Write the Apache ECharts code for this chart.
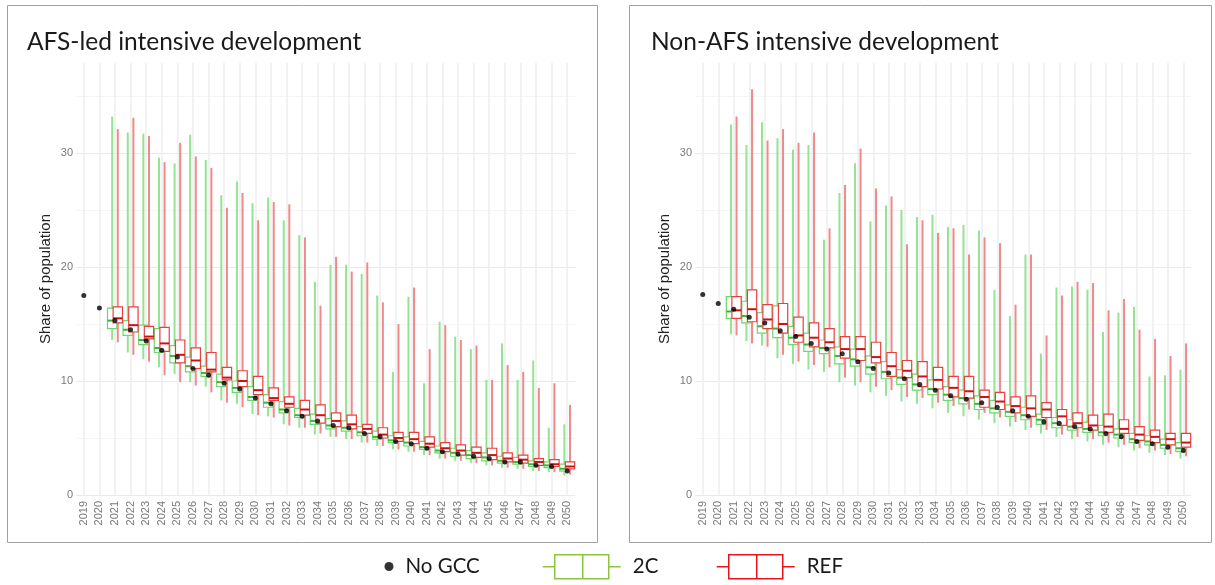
<!DOCTYPE html>
<html><head><meta charset="utf-8">
<script src="https://cdn.jsdelivr.net/npm/echarts@6/dist/echarts.min.js"></script>
<style>html,body{margin:0;padding:0;background:#fff}#c{width:1215px;height:585px}</style>
</head><body><div id="c"></div>
<script>
// ---------- DATA ----------
const years = ['2019','2020','2021','2022','2023','2024','2025','2026','2027','2028','2029','2030',
  '2031','2032','2033','2034','2035','2036','2037','2038','2039','2040','2041','2042','2043','2044',
  '2045','2046','2047','2048','2049','2050'];
const boxStartYear = '2021';
const yTicks = [0, 10, 20, 30];
const panelTitles = ['AFS-led intensive development', 'Non-AFS intensive development'];
const yAxisTitle = 'Share of population';
const seriesNames = ['No GCC', '2C', 'REF'];

// No GCC point estimates, 2019-2050
const afsNoGcc = [17.5,16.4,15.3,14.5,13.5,12.7,12.1,11.1,10.5,9.8,9.3,8.5,8.0,7.4,6.9,6.5,
  6.1,5.9,5.4,5.1,4.7,4.5,4.1,3.8,3.6,3.4,3.2,2.9,2.9,2.6,2.5,2.1];
const nonAfsNoGcc = [17.6,16.8,16.3,15.6,15.1,14.4,13.9,13.3,12.8,12.4,11.7,11.1,10.7,10.2,9.7,9.2,
  8.7,8.4,8.1,7.7,7.4,6.9,6.4,6.3,6.0,5.8,5.4,5.1,4.7,4.5,4.2,3.9];

// boxes 2021-2050: [min, q1, median, q3, max]
const afs2C = [[13.6,14.6,15.3,16.4,33.2],[12.5,14.0,14.5,15.3,31.8],[11.9,13.2,13.6,14.9,31.7],
  [11.2,12.5,12.9,14.6,29.6],[10.6,11.6,12.2,13.1,29.1],[9.9,10.8,11.3,12.1,31.6],[9.5,10.4,10.7,11.3,29.4],
  [8.3,9.5,9.9,10.6,26.3],[8.0,9.0,9.4,10.0,27.5],[7.1,8.3,8.6,9.5,25.6],[6.9,7.7,8.1,8.8,26.1],
  [6.2,7.2,7.5,8.2,24.1],[5.9,6.8,7.0,7.6,22.8],[5.3,6.2,6.5,7.1,18.7],[5.1,5.8,6.1,6.7,20.2],
  [4.9,5.6,5.9,6.5,20.2],[4.6,5.2,5.5,6.0,19.4],[4.3,4.9,5.1,5.6,17.5],[4.0,4.6,4.8,5.2,10.8],
  [3.8,4.3,4.6,5.1,17.4],[3.5,4.0,4.2,4.7,9.8],[3.2,3.7,3.9,4.3,15.2],[3.0,3.4,3.7,4.1,13.9],
  [2.8,3.2,3.5,3.9,12.8],[2.6,3.0,3.3,3.7,10.1],[2.4,2.8,3.0,3.4,13.3],[2.3,2.7,2.9,3.3,10.1],
  [2.1,2.5,2.7,3.0,11.8],[2.0,2.4,2.6,2.9,5.9],[1.7,2.1,2.3,2.7,6.2]];
const afsREF = [[13.4,15.1,15.5,16.5,32.1],[12.3,14.3,14.9,16.5,33.1],[11.7,13.7,13.9,14.8,31.5],
  [10.5,12.6,13.3,14.7,29.2],[9.9,11.6,12.3,13.6,30.9],[9.6,11.1,11.8,12.9,29.7],[9.0,10.8,11.0,12.5,28.7],
  [8.1,10.1,10.3,11.2,25.2],[7.7,9.5,10.0,10.9,26.5],[7.0,8.8,9.2,10.4,24.1],[6.8,8.3,8.5,9.4,25.7],
  [6.1,7.7,8.0,8.6,25.5],[5.9,7.0,7.5,8.3,22.6],[5.4,6.3,7.0,7.9,16.6],[5.1,6.0,6.5,7.2,20.9],
  [4.9,5.8,6.2,7.0,19.6],[4.6,5.4,5.8,6.2,20.4],[4.3,5.0,5.3,5.9,16.9],[4.0,4.7,5.0,5.5,15.0],
  [3.8,4.5,4.9,5.5,18.2],[3.5,4.2,4.5,5.1,12.8],[3.2,3.8,4.1,4.6,14.9],[3.0,3.5,3.9,4.4,13.6],
  [2.8,3.3,3.7,4.2,13.1],[2.6,3.1,3.5,4.1,10.1],[2.4,2.9,3.2,3.7,11.4],[2.3,2.8,3.1,3.5,10.8],
  [2.1,2.6,2.9,3.2,9.4],[2.0,2.5,2.7,3.1,9.8],[1.8,2.3,2.5,2.9,7.9]];
const nonAfs2C = [[14.1,15.5,16.1,17.4,32.5],[13.5,15.1,15.7,17.0,30.7],[13.1,14.2,14.8,16.0,32.7],
  [12.0,13.8,14.6,16.6,31.3],[11.5,13.2,13.8,14.8,30.3],[11.0,12.6,13.2,14.2,30.7],[10.8,12.4,12.9,13.6,22.4],
  [9.9,11.5,12.2,13.0,26.5],[9.6,11.3,11.9,12.8,29.1],[9.0,10.6,11.2,12.2,24.0],[8.7,10.2,10.8,11.7,25.4],
  [8.2,9.7,10.3,11.0,25.0],[8.0,9.2,9.7,10.6,24.4],[7.6,8.8,9.3,10.1,24.6],[7.2,8.3,8.8,9.5,23.5],
  [6.9,8.0,8.5,9.2,23.7],[6.6,7.5,8.0,8.7,23.2],[6.3,7.2,7.6,8.3,18.0],[6.0,6.9,7.3,7.9,15.7],
  [5.7,6.6,7.0,7.7,21.1],[5.4,6.2,6.6,7.1,12.4],[5.1,5.9,6.3,6.8,18.2],[4.9,5.7,6.0,6.6,18.3],
  [4.7,5.5,5.8,6.4,18.0],[4.4,5.2,5.5,6.1,14.3],[4.2,5.0,5.3,5.8,16.0],[3.9,4.6,4.9,5.4,16.5],
  [3.7,4.4,4.7,5.2,10.4],[3.5,4.1,4.4,4.9,10.5],[3.2,3.8,4.1,4.6,11.0]];
const nonAfsREF = [[14.0,15.5,16.2,17.4,33.2],[13.3,15.2,16.3,18.0,35.6],[13.0,14.6,15.4,16.7,31.1],
  [12.3,14.2,15.0,16.8,32.1],[11.7,13.4,14.0,15.6,30.9],[11.4,13.0,13.8,15.1,31.8],[11.2,12.9,13.4,14.6,23.4],
  [10.3,12.0,12.8,13.9,27.2],[9.9,11.8,12.8,13.9,30.4],[9.5,11.6,12.1,13.4,26.9],[9.2,10.4,11.3,12.5,26.2],
  [8.6,10.3,10.9,11.8,22.0],[8.5,9.5,10.4,11.7,24.1],[8.1,9.3,10.1,11.2,23.0],[7.8,8.6,9.4,10.4,23.4],
  [7.5,8.5,9.1,10.4,21.1],[7.2,7.7,8.6,9.2,22.6],[6.8,7.5,8.2,9.0,22.1],[6.4,7.2,7.8,8.6,16.7],
  [5.9,6.9,7.6,8.7,21.1],[5.7,6.8,7.5,8.1,14.0],[5.3,6.1,6.9,7.5,17.5],[5.1,5.9,6.3,7.2,18.7],
  [4.9,5.7,6.1,7.0,18.6],[4.6,5.5,6.0,7.1,16.2],[4.4,5.4,5.8,6.6,17.2],[4.1,4.8,5.3,6.0,14.5],
  [3.9,4.6,5.1,5.7,13.7],[3.6,4.4,4.9,5.4,12.2],[3.4,4.2,4.6,5.4,13.3]];

// ---------- STYLE ----------
const C2 = {whisker:'#93e393', box:'#6ed66e', median:'#3cb43c', legend:'#8cc63f'};
const CREF = {whisker:'#f08a8a', box:'#e8403f', median:'#c81414', legend:'#e8141b'};
const FONT = 'Lato, "Noto Sans", sans-serif';
const AXFONT = '"Liberation Sans", Arial, sans-serif';

const startIdx = years.indexOf(boxStartYear);
function boxData(rows){ return rows.map((r,k)=>[startIdx+k, r[0], r[1], r[2], r[3], r[4]]); }

function boxRenderer(offsetFrac, widthFrac, col){
  return function(params, api){
    const x = api.value(0);
    const band = api.size([1,0])[0];
    const c = api.coord([x,0])[0] + offsetFrac*band;
    const w = widthFrac*band;
    const yMin = api.coord([x, api.value(1)])[1];
    const yQ1 = api.coord([x, api.value(2)])[1];
    const yMed = api.coord([x, api.value(3)])[1];
    const yQ3 = api.coord([x, api.value(4)])[1];
    const yMax = api.coord([x, api.value(5)])[1];
    return {type:'group', children:[
      {type:'line', shape:{x1:c,y1:yQ3,x2:c,y2:yMax}, style:{stroke:col.whisker,lineWidth:2}},
      {type:'line', shape:{x1:c,y1:yQ1,x2:c,y2:yMin}, style:{stroke:col.whisker,lineWidth:2}},
      {type:'rect', shape:{x:c-w/2,y:yQ3,width:w,height:yQ1-yQ3}, style:{fill:'#ffffff',stroke:col.box,lineWidth:1.2}},
      {type:'line', shape:{x1:c-w/2,y1:yMed,x2:c+w/2,y2:yMed}, style:{stroke:col.median,lineWidth:2}}
    ]};
  };
}

const grids = [
  {left:76, width:499, top:63, height:432},
  {left:695, width:496, top:63, height:432}
];
function xAx(i){ return {
  type:'category', gridIndex:i, data:years, boundaryGap:true,
  axisLine:{show:false}, axisTick:{show:false},
  axisLabel:{rotate:90, fontSize:11, color:'#7a7a7a', fontFamily:AXFONT, margin:6},
  splitLine:{show:true, alignWithLabel:true, lineStyle:{color:'#efefef', width:1.6}}
};}
function yAx(i){ return {
  type:'value', gridIndex:i, min:0, max:37.9, interval:5,
  name:yAxisTitle, nameLocation:'middle', nameGap:23,
  nameTextStyle:{fontSize:15, color:'#222', fontFamily:AXFONT},
  axisLine:{show:false}, axisTick:{show:false},
  axisLabel:{fontSize:11, color:'#7a7a7a', fontFamily:AXFONT, margin:3, showMaxLabel:false,
    formatter:v=> yTicks.indexOf(v)>=0 ? String(v) : ''},
  splitLine:{show:true, showMaxLine:false, lineStyle:{color:['#e9e9e9','#f5f5f5'], width:1.2}}
};}

const panels = [
  {noGcc:afsNoGcc, c2:afs2C, ref:afsREF},
  {noGcc:nonAfsNoGcc, c2:nonAfs2C, ref:nonAfsREF}
];
const series = [];
panels.forEach((p,i)=>{
  series.push({name:seriesNames[1], type:'custom', xAxisIndex:i, yAxisIndex:i,
    renderItem:boxRenderer(-0.18,0.6,C2), data:boxData(p.c2), encode:{x:0,y:[1,2,3,4,5]}, z:2,
    itemStyle:{color:C2.legend}});
  series.push({name:seriesNames[2], type:'custom', xAxisIndex:i, yAxisIndex:i,
    renderItem:boxRenderer(0.18,0.6,CREF), data:boxData(p.ref), encode:{x:0,y:[1,2,3,4,5]}, z:3,
    itemStyle:{color:CREF.legend}});
  series.push({name:seriesNames[0], type:'scatter', xAxisIndex:i, yAxisIndex:i,
    data:p.noGcc, symbolSize:5, itemStyle:{color:'#000'}, z:5});
});

const boxIcon = 'path://M0,12L12,12M12,0L66,0L66,24L12,24ZM40,0L40,24M66,12L78,12';
const legText = {fontSize:20.5, color:'#1a1a1a', fontFamily:FONT, padding:[0,0,0,7]};

const option = {
  backgroundColor:'#fff',
  animation:false,
  title: panelTitles.map((t,i)=>({text:t, left: i===0?27:651, top:30, padding:0,
    textStyle:{fontSize:24.5, fontWeight:'normal', color:'#1a1a1a', fontFamily:FONT}})),
  grid: grids,
  xAxis:[xAx(0), xAx(1)],
  yAxis:[yAx(0), yAx(1)],
  legend:[
    {data:[{name:seriesNames[0], icon:'circle'}], left:384.5, top:556, padding:0, itemWidth:9, itemHeight:9,
      itemStyle:{color:'#000', borderWidth:0}, textStyle:legText},
    {data:[{name:seriesNames[1], icon:boxIcon}], left:542, top:554, padding:0, itemWidth:78, itemHeight:24,
      itemStyle:{color:'transparent', borderColor:C2.legend, borderWidth:1.5}, textStyle:legText},
    {data:[{name:seriesNames[2], icon:boxIcon}], left:716, top:554, padding:0, itemWidth:78, itemHeight:24,
      itemStyle:{color:'transparent', borderColor:CREF.legend, borderWidth:1.5}, textStyle:legText}
  ],
  graphic:[
    {type:'rect', shape:{x:7.5,y:5.5,width:590,height:537}, style:{fill:'none',stroke:'#a0a0a0',lineWidth:1}, silent:true},
    {type:'rect', shape:{x:629.5,y:5.5,width:582,height:537}, style:{fill:'none',stroke:'#a0a0a0',lineWidth:1}, silent:true}
  ],
  series: series
};
const chart = echarts.init(document.getElementById('c'), null, {renderer:'canvas'});
chart.setOption(option);
</script></body></html>
